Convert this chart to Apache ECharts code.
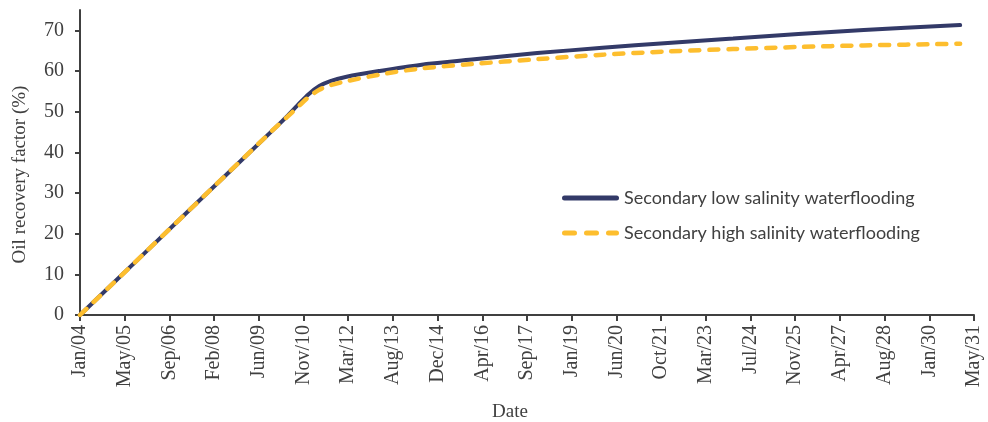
<!DOCTYPE html>
<html>
<head>
<meta charset="utf-8">
<script src="https://cdn.jsdelivr.net/npm/echarts@6/dist/echarts.min.js"></script>
<style>html,body{margin:0;padding:0;background:#fff}#c{width:988px;height:422px}</style>
</head>
<body>
<div id="c"></div>
<script>
// ---- data ----
var startDate = '2004-01-01';
var xTickLabels = ['Jan/04','May/05','Sep/06','Feb/08','Jun/09','Nov/10','Mar/12','Aug/13','Dec/14','Apr/16','Sep/17','Jan/19','Jun/20','Oct/21','Mar/23','Jul/24','Nov/25','Apr/27','Aug/28','Jan/30','May/31'];
var xTickStepDays = 500;
var yTicks = [0,10,20,30,40,50,60,70];

var lowDates  = ['2004-01-01','2006-01-01','2008-01-01','2010-01-01','2010-05-01','2010-09-01','2011-01-01','2011-05-01','2011-09-01','2012-03-01','2013-03-01','2014-06-01','2016-01-01','2018-01-01','2020-01-01','2022-01-01','2024-01-01','2026-01-01','2028-01-01','2030-12-15'];
var lowValues = [0,15.4,30.8,46.2,48.8,51.6,54.3,56.3,57.5,58.6,60.0,61.5,62.8,64.4,65.7,66.9,68.0,69.1,70.1,71.3];

var highDates  = ['2004-01-01','2006-01-01','2008-01-01','2010-01-01','2010-05-01','2010-09-01','2011-01-01','2011-05-01','2011-09-01','2012-03-01','2013-03-01','2014-06-01','2016-01-01','2018-01-01','2020-01-01','2022-01-01','2024-01-01','2026-01-01','2028-01-01','2030-12-15'];
var highValues = [0,15.4,30.8,46.2,48.6,51.1,53.6,55.4,56.5,57.5,59.1,60.6,61.7,62.9,64.0,64.8,65.4,65.9,66.3,66.7];

var seriesNames = ['Secondary low salinity waterflooding','Secondary high salinity waterflooding'];

// ---- build ----
function days(s){ return (Date.parse(s) - Date.parse(startDate)) / 86400000; }
function pairs(ds, vs){ return ds.map(function(d,i){ return [days(d), vs[i]]; }); }

var serif = 'Liberation Serif';
var axisColor = '#404040';
var navy = '#333a68', gold = '#fdbe2e';

var chart = echarts.init(document.getElementById('c'), null, {renderer:'canvas'});
chart.setOption({
  animation: false,
  backgroundColor: '#fff',
  grid: { left: 80, right: 14, top: 10, bottom: 107, containLabel: false, outerBoundsMode: 'none' },
  legend: {
    orient: 'vertical',
    left: 557, top: 184,
    itemWidth: 57, itemHeight: 5, itemGap: 17,
    textStyle: { fontFamily: 'Lato', fontSize: 18, color: axisColor },
    data: [
      { name: seriesNames[0], icon: 'path://M2.5,0h52a2.5,2.5 0 0 1 0,5h-52a2.5,2.5 0 0 1 0,-5z' },
      { name: seriesNames[1], icon: 'path://M2.5,0h10a2.5,2.5 0 0 1 0,5h-10a2.5,2.5 0 0 1 0,-5z M24.5,0h10a2.5,2.5 0 0 1 0,5h-10a2.5,2.5 0 0 1 0,-5z M46.5,0h8a2.5,2.5 0 0 1 0,5h-8a2.5,2.5 0 0 1 0,-5z' }
    ]
  },
  xAxis: {
    type: 'value',
    min: 0, max: xTickStepDays * (xTickLabels.length - 1), interval: xTickStepDays,
    name: 'Date', nameLocation: 'middle', nameGap: 88,
    nameTextStyle: { fontFamily: serif, fontSize: 19, color: axisColor, padding: [0, 34, 0, 0] },
    axisLine: { lineStyle: { color: axisColor, width: 2 } },
    axisTick: { length: 6, lineStyle: { color: axisColor, width: 2 } },
    axisLabel: {
      rotate: 90, margin: 10, fontFamily: serif, fontSize: 20, color: axisColor,
      formatter: function(v){ return xTickLabels[Math.round(v / xTickStepDays)] || ''; }
    },
    splitLine: { show: false }
  },
  yAxis: {
    type: 'value', min: 0, max: 75, interval: 10,
    name: 'Oil recovery factor (%)', nameLocation: 'middle', nameGap: 50,
    nameTextStyle: { fontFamily: serif, fontSize: 19, color: axisColor, padding: [0, 24, 0, 0] },
    axisLine: { show: true, lineStyle: { color: axisColor, width: 2 } },
    axisTick: { show: true, length: 5, lineStyle: { color: axisColor, width: 2 }, customValues: yTicks },
    axisLabel: { margin: 16, fontFamily: serif, fontSize: 20, color: axisColor, customValues: yTicks },
    splitLine: { show: false }
  },
  series: [
    {
      name: seriesNames[0], type: 'line', data: pairs(lowDates, lowValues),
      smooth: 0.3, symbol: 'none', showSymbol: false,
      lineStyle: { color: navy, width: 4, cap: 'round' },
      itemStyle: { color: navy }, z: 2
    },
    {
      name: seriesNames[1], type: 'line', data: pairs(highDates, highValues),
      smooth: 0.3, symbol: 'none', showSymbol: false,
      lineStyle: { color: gold, width: 4.5, type: [9, 10], cap: 'round' },
      itemStyle: { color: gold }, z: 3
    }
  ]
});
</script>
</body>
</html>
